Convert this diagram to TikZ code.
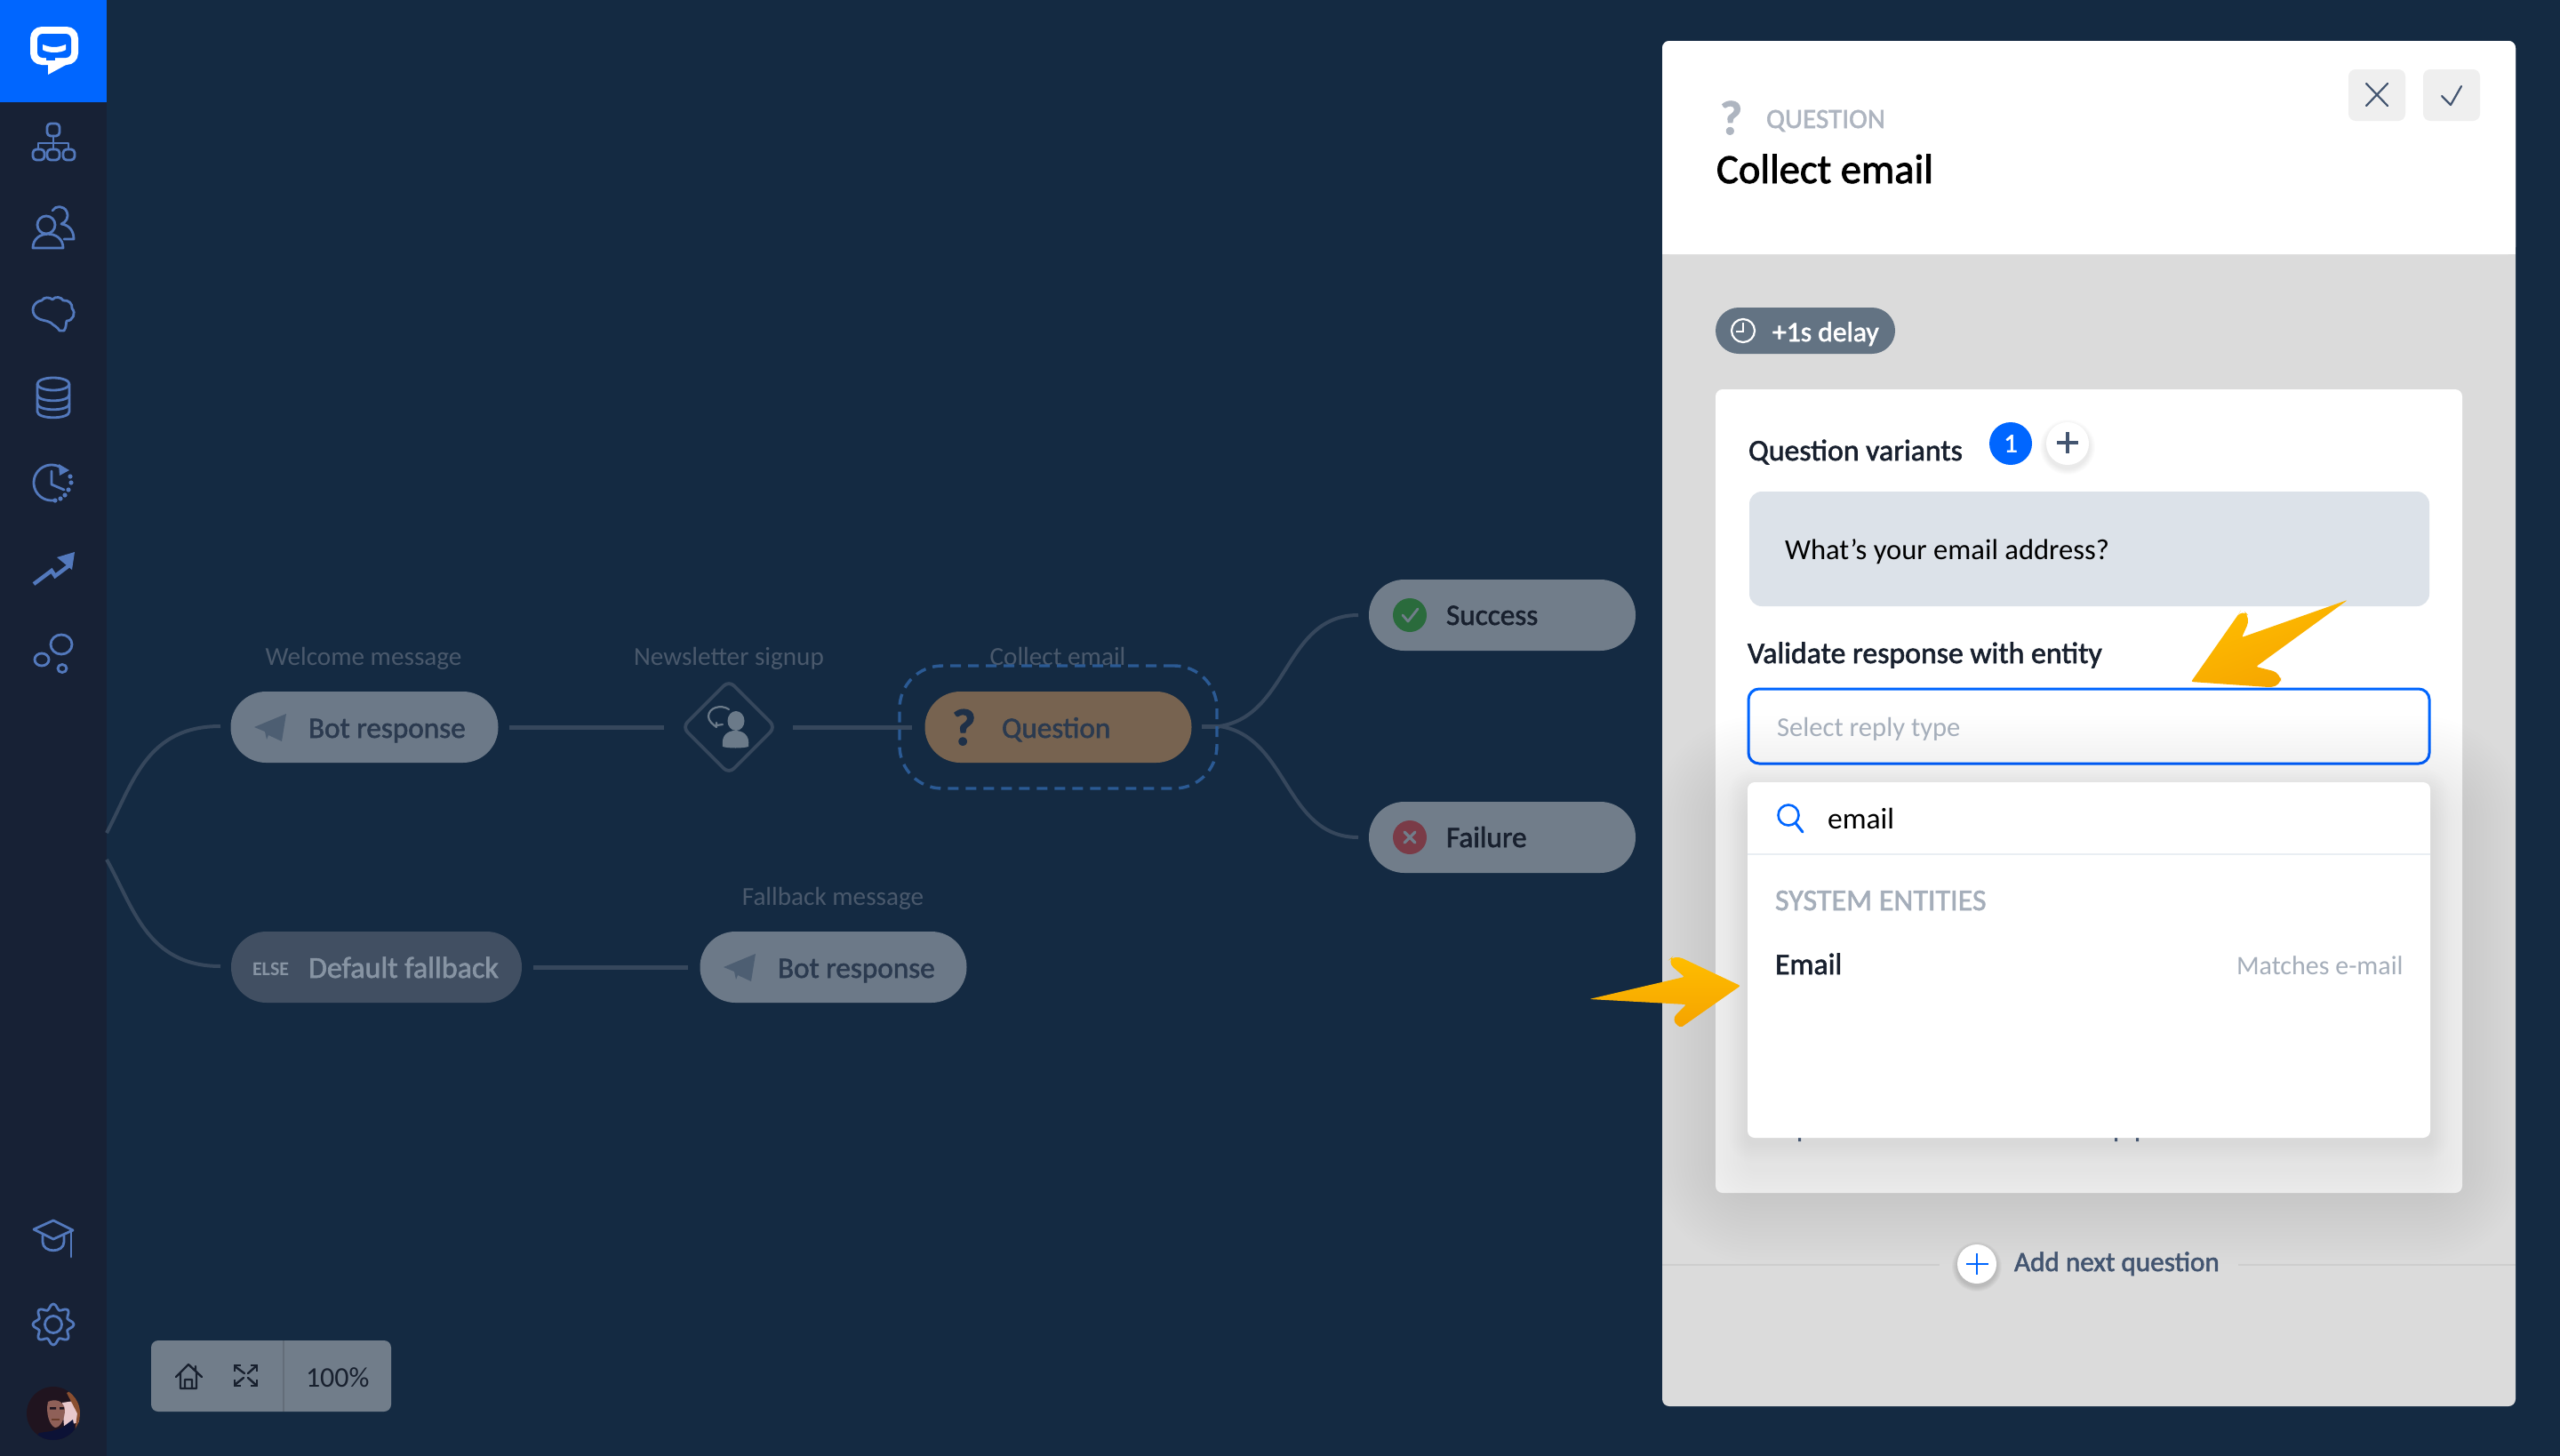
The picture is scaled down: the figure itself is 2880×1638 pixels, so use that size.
\documentclass[tikz,border=0pt]{standalone}
\usepackage{fontspec}
\setmainfont{Carlito}
\newfontfamily\semi[FakeBold=1.8]{Carlito}
\usetikzlibrary{shapes.geometric}
\definecolor{bgnavy}{HTML}{142A42}
\definecolor{sidebar}{HTML}{172135}
\definecolor{brandblue}{HTML}{0066FF}
\definecolor{iconblue}{HTML}{5379BD}
\definecolor{pillgray}{HTML}{6C7988}
\definecolor{pilllight}{HTML}{717D8A}
\definecolor{pillelse}{HTML}{414F62}
\definecolor{pillq}{HTML}{776350}
\definecolor{connc}{HTML}{36475C}
\definecolor{dashc}{HTML}{2B5A94}
\definecolor{lblc}{HTML}{4A596C}
\definecolor{darktxt}{HTML}{2B3A4F}
\definecolor{qdark}{HTML}{1E3048}
\definecolor{blacktxt}{HTML}{18202E}
\definecolor{panelgray}{HTML}{DBDBDB}
\definecolor{greytxt}{HTML}{A5AEBA}
\definecolor{qgrey}{HTML}{AEB5C0}
\definecolor{slate}{HTML}{435570}
\definecolor{amberA}{HTML}{FFBE00}
\definecolor{amberB}{HTML}{F5A300}
\definecolor{avhair}{HTML}{20141F}
\definecolor{avshirt}{HTML}{0C1236}
\definecolor{avskin}{HTML}{8F6058}
\definecolor{avpink}{HTML}{E8C8CC}
\definecolor{avbrown}{HTML}{8A4F30}
\definecolor{planec}{HTML}{4D5E72}
\definecolor{iconperson}{HTML}{6B7A89}
\definecolor{elsetxt}{HTML}{8794A3}
\definecolor{okgreen}{HTML}{2A6B3C}
\definecolor{badred}{HTML}{7A3B47}
\definecolor{fieldc}{HTML}{DCE2E9}
\definecolor{delayc}{HTML}{637383}
\definecolor{btnc}{HTML}{EFEFEF}
\definecolor{sepc}{HTML}{E9EEF3}
\definecolor{linec}{HTML}{CDCDCD}
\definecolor{shadowc}{HTML}{2A3A50}
\tikzset{
  pill/.style={rectangle,rounded corners=19.9pt,minimum height=40pt,inner sep=0pt,draw=none},
  conn/.style={draw=connc,line width=2.5pt},
  curve/.style={draw=connc,line width=2pt},
  sideicon/.style={draw=iconblue,line width=1.4pt,line join=round,line cap=round},
  txt/.style={anchor=base west,inner sep=0pt,outer sep=0pt},
  lbl/.style={anchor=base,inner sep=0pt,text=lblc,font=\fontsize{14.6pt}{16pt}\selectfont},
  pilltxt/.style={txt,font=\semi\fontsize{16.6pt}{18pt}\selectfont},
  strong/.style={txt,font=\semi\fontsize{16.9pt}{18pt}\selectfont,text=blacktxt},
  body/.style={txt,font=\fontsize{16pt}{18pt}\selectfont},
  btn/.style={rectangle,rounded corners=4pt,fill=#1,inner sep=0pt},
  glyph/.style={draw=slate,line width=1.1pt,line cap=round,line join=round},
}
\newcommand{\plane}[1]{\fill[planec,shift={#1}] (286,818) -- (322,803) -- (317,834) -- (302,827) -- (300,832) -- (298,823) -- cycle;}
\begin{document}
\begin{tikzpicture}[x=0.5pt,y=-0.5pt]
\useasboundingbox (0,0) rectangle (2880,1638);
\fill[bgnavy] (0,0) rectangle (2880,1638);
% --- sidebar
\fill[sidebar] (0,0) rectangle (120,1638);
\fill[brandblue] (0,0) rectangle (120,115);
\fill[white,rounded corners=6.5pt] (34,30) rectangle (88,73);
\fill[white] (54,68) -- (54,84) -- (76,72) -- cycle;
\fill[brandblue,rounded corners=3pt] (42,38) rectangle (80,65);
\fill[brandblue] (52,60) rectangle (62,68);
\fill[white] (48,50) .. controls (58,54) and (64,54) .. (74,50) -- (74,56) .. controls (68,60) and (54,60) .. (48,56) -- cycle;
% hierarchy
\draw[sideicon,rounded corners=2pt] (53,139) rectangle (67,153);
\draw[sideicon,rounded corners=2pt] (37,168) rectangle (50,180);
\draw[sideicon,rounded corners=2pt] (53,168) rectangle (67,180);
\draw[sideicon,rounded corners=2pt] (71,168) rectangle (84,180);
\draw[sideicon] (60,153) -- (60,168) (43,168) -- (43,161) -- (77,161) -- (77,168);
% users
\draw[sideicon] (59,237) .. controls (62,231) and (72,231) .. (75,238) .. controls (78,245) and (74,250) .. (69,252) .. controls (78,253) and (83,260) .. (83,269) -- (72,269);
\draw[sideicon] (52,253) circle (10);
\draw[sideicon] (37,279) .. controls (37,258) and (71,258) .. (71,279) -- cycle;
% brain
\draw[sideicon] (41,357) .. controls (33,350) and (38,339) .. (47,338) .. controls (49,334) and (56,334) .. (59,337) .. controls (62,333) and (69,334) .. (71,338) .. controls (77,337) and (82,342) .. (81,347) .. controls (86,352) and (82,361) .. (75,361) .. controls (74,363) and (75,368) .. (72,372) -- (67,372) .. controls (65,368) and (60,366) .. (57,363) .. controls (52,360) and (46,361) .. (41,357) -- cycle;
% database
\draw[sideicon] (60,432) ellipse (18 and 7);
\draw[sideicon] (42,432) -- (42,463) .. controls (42,472) and (78,472) .. (78,463) -- (78,432);
\draw[sideicon] (42,444) .. controls (42,453) and (78,453) .. (78,444);
\draw[sideicon] (42,454) .. controls (42,463) and (78,463) .. (78,454);
% history clock
\draw[sideicon] plot[smooth,domain=85:300,samples=30] ({58+20*cos(\x)},{543+20*sin(\x)});
\fill[iconblue] (78,529) -- (66,522) -- (67,535) -- cycle;
\draw[sideicon] (58,530) -- (58,545) -- (72,551);
\foreach \px/\py in {79/536,80/543,77/551,73/557,68/561,62/563}{\fill[iconblue] (\px,\py) circle (2.6);}
% trend
\draw[iconblue,line width=2.2pt] (38,657) -- (58,642) -- (62,648) -- (78,636);
\fill[iconblue] (84,621) -- (64,627) -- (81,641) -- cycle;
% bubbles
\draw[sideicon] (47,742) ellipse (8 and 7);
\draw[sideicon] (69,725) ellipse (12 and 11);
\draw[sideicon] (70,752) ellipse (5 and 4.5);
% cap
\draw[sideicon] (38,1383) -- (60,1373) -- (82,1384) -- (60,1394) -- cycle;
\draw[sideicon] (48,1390) -- (48,1397) .. controls (48,1410) and (72,1410) .. (72,1397) -- (72,1390);
\draw[sideicon] (80,1385) -- (80,1414);
% gear
\draw[sideicon] plot[smooth cycle,domain=0:352.5,samples=48] ({60+(20+3*cos(8*\x))*cos(\x)},{1490+(20+3*cos(8*\x))*sin(\x)});
\draw[sideicon] (60,1490) circle (9.5);
% avatar
\begin{scope}
\clip (60,1590) circle (30);
\fill[avhair] (30,1560) rectangle (90,1620);
\fill[avpink] (70,1578) -- (84,1576) -- (90,1600) -- (72,1604) -- cycle;
\fill[avbrown] (75,1567) -- (81,1564) -- (92,1585) -- (92,1610) -- (84,1612) -- (87,1590) -- cycle;
\fill[avskin] (54,1577) .. controls (62,1573) and (72,1576) .. (73,1586) .. controls (73,1596) and (68,1606) .. (62,1606) .. controls (56,1604) and (51,1590) .. (54,1577) -- cycle;
\fill[avhair] (56,1583) rectangle (63,1585.5) (67,1583) rectangle (72,1585.5);
\fill[avbrown!70!avhair] (58,1596) rectangle (67,1598);
\fill[avshirt] (38,1620) -- (44,1612) -- (58,1610) -- (70,1606) -- (82,1597) -- (85,1612) -- (80,1625) -- cycle;
\end{scope}
% --- toolbar
\node[btn=pilllight,minimum width=135pt,minimum height=40pt] (toolbar) at (305,1548) {};
\draw[black,opacity=0.12,line width=1pt] (319,1508) -- (319,1588);
\draw[blacktxt,line width=1.2pt,line join=round,line cap=round] (198,1549) -- (212,1535) -- (227,1549) (203,1545) -- (203,1562) -- (221,1562) -- (221,1545) (208,1562) -- (208,1552) -- (216,1552) -- (216,1562) (220,1537) -- (220,1542);
\draw[blacktxt,line width=1.2pt,line cap=round] (264,1537) -- (275,1545) (264,1558) -- (274,1550) (288,1537) -- (279,1545) (288,1558) -- (279,1550);
\draw[blacktxt,line width=1.2pt] (264,1543) -- (264,1536) -- (271,1536) (282,1536) -- (289,1536) -- (289,1543) (264,1552) -- (264,1559) -- (271,1559) (282,1559) -- (289,1559) -- (289,1552);
\node[txt,text=blacktxt,font=\fontsize{16pt}{18pt}\selectfont] (zoomtxt) at (344,1560) {100\%};
% --- connector coordinates
\coordinate (leftA) at (120,937);
\coordinate (leftB) at (120,967);
\coordinate (in1) at (248,817);
\coordinate (in2) at (248,1087);
\coordinate (qout) at (1352,817);
\coordinate (qfork) at (1372,817);
\coordinate (sin) at (1528,692);
\coordinate (fin) at (1528,942);
% --- flow nodes
\node[pill,fill=pillgray,minimum width=150.5pt] (bot1) at (410,818) {};
\node[diamond,draw=connc,line width=1.9pt,rounded corners=4pt,minimum width=53pt,minimum height=53pt,inner sep=0pt,aspect=1] (sig) at (820,818) {};
\node[pill,fill=pillq,minimum width=150pt] (qn) at (1190.5,818) {};
\node[pill,fill=pillelse,minimum width=163.5pt] (fallb) at (423.5,1088) {};
\node[pill,fill=pillgray,minimum width=150pt] (bot2) at (937.5,1088) {};
\node[pill,fill=pilllight,minimum width=150pt] (succ) at (1690,692) {};
\node[pill,fill=pilllight,minimum width=150pt] (fail) at (1690,942) {};
% connectors
\draw[conn,shorten <=6pt,shorten >=9pt] (bot1.east) -- (sig.west);
\draw[conn,shorten <=8.5pt,shorten >=7pt] (sig.east) -- (qn.west);
\draw[conn,shorten <=6.5pt,shorten >=6.5pt] (fallb.east) -- (bot2.west);
\draw[curve] (leftA) .. controls (150,880) and (165,817) .. (in1);
\draw[curve] (leftB) .. controls (150,1020) and (165,1087) .. (in2);
\draw[conn] (qout) -- (qfork);
\draw[curve] (qfork) .. controls (1450,805) and (1445,692) .. (sin);
\draw[curve] (qfork) .. controls (1450,829) and (1445,942) .. (fin);
% labels
\node[lbl] (l1) at (409,748) {Welcome message};
\node[lbl] (l2) at (820,748) {Newsletter signup};
\node[lbl] (l3) at (1190,748) {Collect email};
\node[lbl] (l4) at (937,1018) {Fallback message};
\node[rectangle,draw=dashc,line width=1.7pt,dash pattern=on 6pt off 4pt,rounded corners=24pt,minimum width=178.5pt,minimum height=69pt,inner sep=0pt] (qsel) at (1190.5,818) {};
% pill contents
\plane{(0,0)}
\plane{(528,270)}
\node[pilltxt,text=darktxt] (t1) at (347,830) {Bot response};
\node[pilltxt,text=darktxt] (t2) at (875,1100) {Bot response};
\node[txt,text=qdark,font=\semi\bfseries\fontsize{29pt}{30pt}\selectfont] (t3a) at (1071,838) {?};
\node[pilltxt,text=darktxt] (t3) at (1127,830) {Question};
\node[txt,text=elsetxt,font=\bfseries\fontsize{11pt}{12pt}\selectfont] (t4a) at (284,1097) {ELSE};
\node[pilltxt,text=elsetxt,font=\semi\fontsize{17pt}{18pt}\selectfont] (t4) at (347,1100) {Default fallback};
\node[pilltxt,text=blacktxt] (t5) at (1627,703) {Success};
\node[pilltxt,text=blacktxt] (t6) at (1627,953) {Failure};
\node[circle,fill=okgreen,minimum size=19pt,inner sep=0pt] (okc) at (1586,692) {};
\node[circle,fill=badred,minimum size=19pt,inner sep=0pt] (noc) at (1586,942) {};
\draw[pilllight,line width=1.4pt,line cap=round,line join=round] (1578,692) -- (1584,699) -- (1595,685);
\draw[pilllight,line width=1.6pt,line cap=round] (1580,936) -- (1592,948) (1592,936) -- (1580,948);
% newsletter icon
\fill[iconperson] (828,811) ellipse (9.5 and 11);
\fill[iconperson] (813,840) .. controls (811,826) and (820,822) .. (827,822) .. controls (835,822) and (844,826) .. (842,840) .. controls (835,842) and (820,842) .. (813,840) -- cycle;
\draw[iconperson,line width=1.1pt,line cap=round] (820,798) .. controls (811,792) and (797,796) .. (797,806) .. controls (797,811) and (802,815) .. (806,818) (806,818) -- (806,813) (806,816) -- (813,815);
% --- right panel
\fill[panelgray,rounded corners=4pt] (1870,46) rectangle (2830,1582);
\fill[white,rounded corners=4pt] (1870,286) -- (1870,46) -- (2830,46) -- (2830,286) -- cycle;
\fill[white] (1870,200) rectangle (2830,286);
\node[btn=btnc,minimum width=32pt,minimum height=29pt] (closeb) at (2674,107) {};
\node[btn=btnc,minimum width=32pt,minimum height=29pt] (okb) at (2758,107) {};
\draw[glyph] (2662,94) -- (2686,119) (2686,94) -- (2662,119);
\draw[glyph] (2747,108) -- (2757,118) -- (2769,97);
\node[txt,text=qgrey,font=\semi\bfseries\fontsize{27pt}{28pt}\selectfont] (qmark) at (1935,151) {?};
\node[txt,text=qgrey,font=\semi\fontsize{15.6pt}{17pt}\selectfont] (qhead) at (1987,144) {QUESTION};
\node[txt,text=black,font=\semi\fontsize{23.3pt}{26pt}\selectfont] (title) at (1931,206) {Collect email};
\node[pill,fill=delayc,rounded corners=13pt,minimum width=101pt,minimum height=26pt] (delay) at (2031,372) {};
\draw[white,line width=1.1pt] (1961,372) circle (13);
\draw[white,line width=1.1pt] (1961,363) -- (1961,373) -- (1953,373);
\node[txt,text=white,font=\semi\fontsize{15.8pt}{18pt}\selectfont] (delayt) at (1994,384) {+1s delay};
% card
\fill[white,rounded corners=4pt] (1930,438) rectangle (2770,1342);
\node[strong] (qv) at (1967,518) {Question variants};
\fill[fieldc,rounded corners=7pt] (1968,553) rectangle (2733,682);
\node[txt,text=black,font=\fontsize{16.3pt}{18pt}\selectfont] (wye) at (2008,629) {What\symbol{39}s your email address?};
\node[strong] (vr) at (1966,746) {Validate response with entity};
% input
\node[rectangle,draw=brandblue,fill=white,line width=1.5pt,rounded corners=6pt,minimum width=383pt,minimum height=42pt,inner sep=0pt] (inp) at (2350,817) {};
% soft shadow of the dropdown, limited to the panel
\begin{scope}
\clip[rounded corners=4pt] (1870,286) rectangle (2830,1582);
\foreach \e in {4,8,...,108}{
  \fill[shadowc,opacity=0.0048,rounded corners={(\e+10)*0.5pt}] ({1966-\e},{880+34-\e}) rectangle ({2734+\e},{1280+34+\e});
}
\foreach \e in {2,4,...,22}{
  \fill[shadowc,opacity=0.005,rounded corners={(\e+8)*0.5pt}] ({1966-\e},{880+6-\e}) rectangle ({2734+\e},{1280+6+\e});
}
\end{scope}
\node[body,text=greytxt,font=\fontsize{15.3pt}{18pt}\selectfont] (sel) at (1999,828) {Select reply type};
% dropdown
\fill[slate] (2023,1280) rectangle (2026,1284) (2379,1280) rectangle (2382,1284) (2403,1280) rectangle (2406,1284);
\fill[white,rounded corners=4pt] (1966,880) rectangle (2734,1280);
\draw[sepc,line width=1pt] (1966,961) -- (2734,961);
\draw[brandblue,line width=1.3pt] (2012,917) circle (11.5);
\draw[brandblue,line width=1.5pt,line cap=round] (2020,926) -- (2028,936);
\node[body,text=black,font=\fontsize{16.8pt}{18pt}\selectfont] (srch) at (2056,932) {email};
\node[txt,text=greytxt,font=\semi\fontsize{17pt}{19pt}\selectfont] (sysent) at (1997,1024) {SYSTEM ENTITIES};
\node[strong] (emailit) at (1997,1096) {Email};
\node[txt,text=greytxt,font=\fontsize{15pt}{17pt}\selectfont] (match) at (2516,1096) {Matches e-mail};
% variant badges
\foreach \e in {1,2,...,7}{\fill[black,opacity=0.012] (2326,503) circle ({24+\e});}
\node[circle,fill=white,minimum size=24pt,inner sep=0pt] (plusb) at (2326,499) {};
\node[circle,fill=brandblue,minimum size=24pt,inner sep=0pt,text=white,font=\semi\fontsize{15pt}{17pt}\selectfont] (oneb) at (2262,499) {1};
\draw[glyph,line width=1.6pt,line cap=butt] (2314,498) -- (2338,498) (2326,486) -- (2326,510);
% add next
\coordinate (sepL) at (1870,1423);
\coordinate (sepLe) at (2182,1423);
\coordinate (sepR) at (2518,1423);
\coordinate (sepRe) at (2830,1423);
\draw[linec,line width=1pt] (sepL) -- (sepLe) (sepR) -- (sepRe);
\foreach \e in {1,2,...,6}{\fill[black,opacity=0.025] (2224,1425) circle ({22+\e});}
\node[circle,fill=white,minimum size=22pt,inner sep=0pt] (addb) at (2224,1422) {};
\draw[brandblue,line width=1.4pt] (2212,1422) -- (2237,1422) (2224,1410) -- (2224,1434);
\node[txt,text=slate,font=\semi\fontsize{15.6pt}{18pt}\selectfont] (addt) at (2266,1430) {Add next question};
% amber arrows
\shade[top color=amberA,bottom color=amberB,shading angle=20,rounded corners=2pt] (2465,767) -- (2519,690) [rounded corners=5pt] -- (2522,685) -- (2532,695) [rounded corners=1pt] -- (2522,717) -- (2641,675) -- (2538,750) [rounded corners=5pt] -- (2566,757) -- (2566,772) [rounded corners=1pt] -- (2552,773) -- cycle;
\shade[top color=amberA,bottom color=amberB,rounded corners=1pt] (1788,1124) -- (1895,1099) [rounded corners=5pt] -- (1875,1082) -- (1884,1074) [rounded corners=1pt] -- (1958,1109) -- (1891,1156) [rounded corners=5pt] -- (1879,1148) [rounded corners=1pt] -- (1897,1130) -- cycle;
\end{tikzpicture}
\end{document}
